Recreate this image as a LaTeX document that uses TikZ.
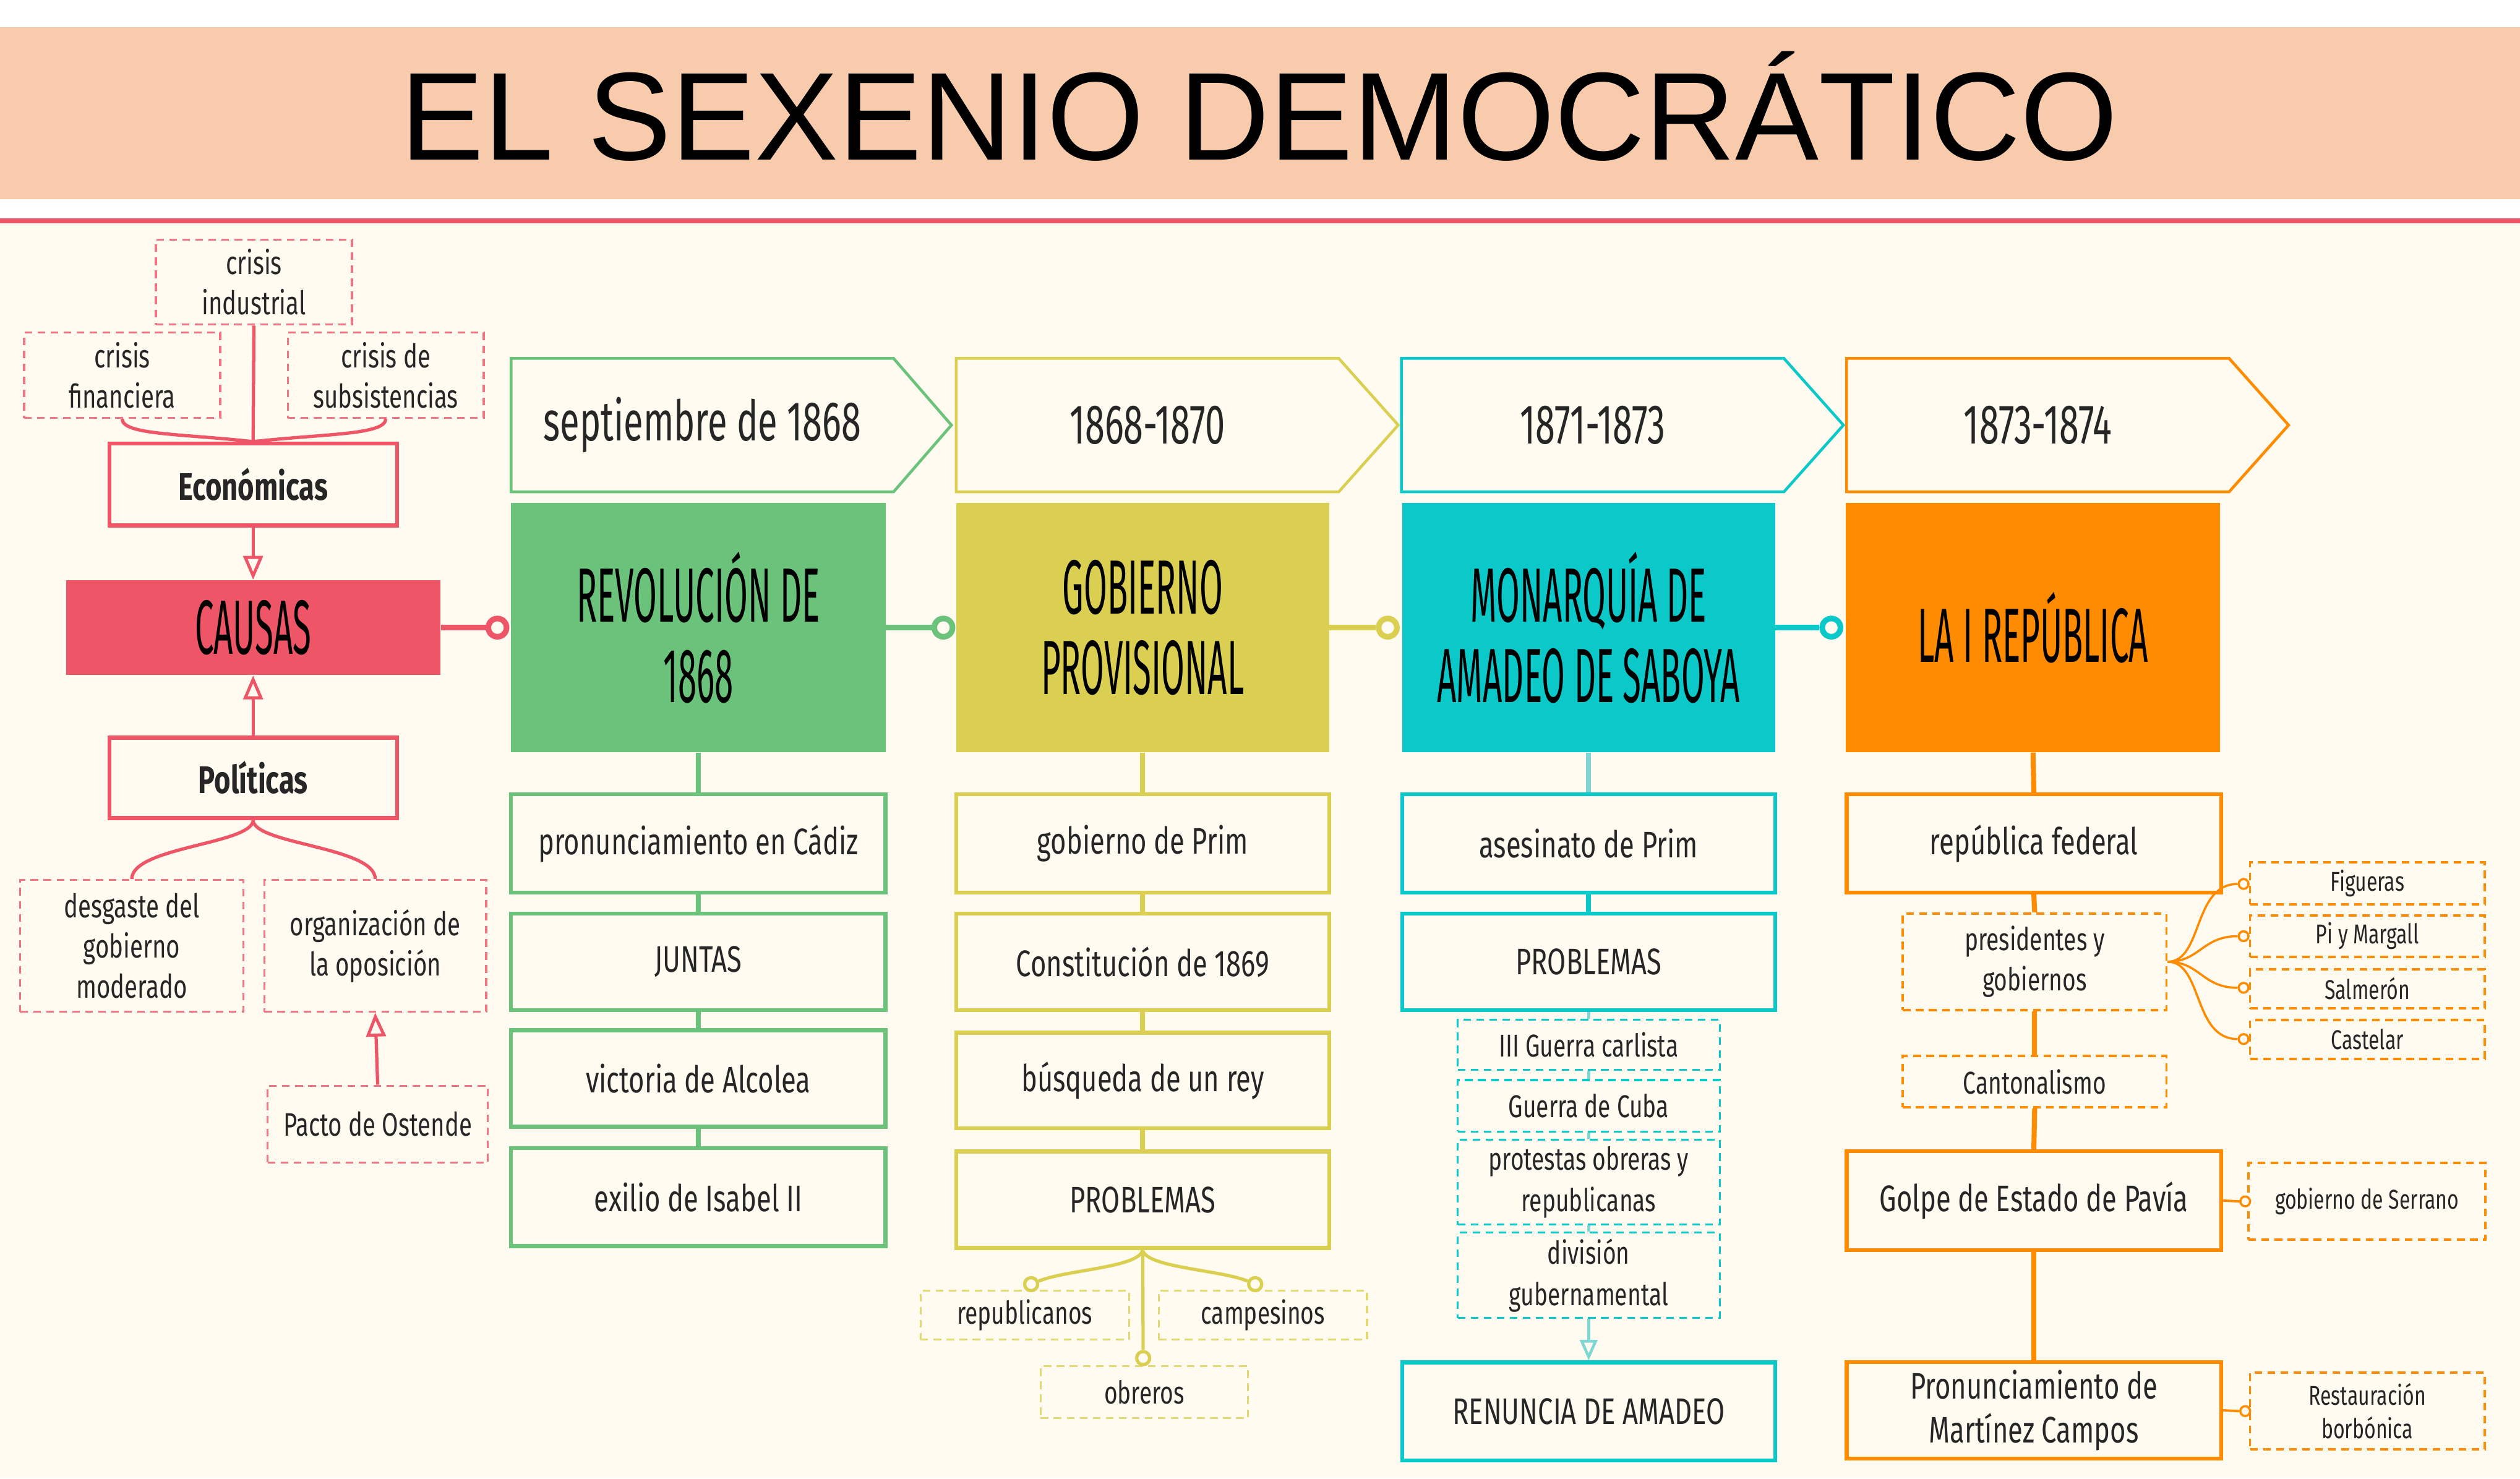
\documentclass[tikz,border=0pt]{standalone}
\usepackage{fontspec}
\setmainfont{Fira Sans}
\newfontfamily\fsub[FakeStretch=0.73]{Fira Sans}
\newfontfamily\fban[FakeStretch=0.64]{Fira Sans}
\newfontfamily\fbig[FakeStretch=0.44]{Fira Sans}
\newfontfamily\ftitle{Liberation Sans}
\usetikzlibrary{arrows.meta}
\newdimen\dpx
\dpx=0.026cm
\definecolor{cream}{HTML}{FFFBF0}
\definecolor{peach}{HTML}{F7CBAC}
\definecolor{redc}{HTML}{EE5566}
\definecolor{redd}{HTML}{F07482}
\definecolor{grn}{HTML}{6BC27A}
\definecolor{ylw}{HTML}{DBCF52}
\definecolor{ylwd}{HTML}{E2D874}
\definecolor{cyn}{HTML}{0BC9C9}
\definecolor{cynl}{HTML}{80D6D2}
\definecolor{orng}{HTML}{FF8C00}
\definecolor{txt}{HTML}{262626}
\tikzset{
  sbox/.style={draw=#1, line width=1.8pt, fill=cream, inner sep=0pt, align=center, text=txt,
    font=\fsub\fontsize{17}{20.3}\selectfont},
  dbox/.style={draw=#1, dash pattern=on 3.5pt off 2.5pt, line width=0.9pt, fill=cream, inner sep=0pt,
    align=center, text=txt, font=\fsub\fontsize{14.5}{18.5}\selectfont},
  lbox/.style={dbox=redd, font=\fsub\fontsize{15}{18.5}\selectfont},
  smbox/.style={dbox=orng, line width=1.1pt, font=\fsub\fontsize{12.5}{15.5}\selectfont},
  rbox/.style={draw=redc, line width=1.8pt, fill=cream, inner sep=0pt, text=txt,
    font=\fsub\bfseries\fontsize{17.7}{20}\selectfont},
  tbox/.style={fill=#1, inner sep=0pt, align=center, text=black,
    font=\fbig\fontsize{35.4}{36.9}\selectfont},
  bantext/.style={inner sep=0pt, text=txt, font=\fban\fontsize{25.7}{28}\selectfont},
  banner/.style={draw=#1, line width=1.3pt, fill=cream, line join=miter},
  conn/.style={draw=#1, line width=2.6pt},
  vline/.style={draw=#1, line width=2.3pt},
  ring/.style={circle, draw=#1, line width=2.6pt, fill=cream, minimum size=8.4pt, inner sep=0pt},
  yring/.style={circle, draw=ylw, line width=1.5pt, fill=cream, minimum size=6pt, inner sep=0pt},
  oring/.style={circle, draw=orng, line width=1pt, fill=cream, minimum size=4.5pt, inner sep=0pt},
  redline/.style={draw=redc, line width=1.5pt},
  opentri/.style={-{Triangle[open, length=11pt, width=9pt, line width=1.4pt]}},
  opentris/.style={-{Triangle[open, length=9.5pt, width=8pt, line width=1.3pt]}},
}
\begin{document}
\begin{tikzpicture}[x=0.026cm,y=-0.026cm]
\useasboundingbox (0,0) rectangle (1568,920);
% background
\fill[white] (0,0) rectangle (1568,920);
\fill[cream] (0,139) rectangle (1568,920);
\fill[peach] (0,17) rectangle (1568,124);
\fill[redc] (0,136) rectangle (1568,139);
\node[anchor=base, inner sep=0pt, text=black, font=\ftitle\fontsize{57.6}{60}\selectfont] (title) at (783.5,99.5) {EL SEXENIO DEMOCRÁTICO};

% ---------------- CAUSAS ----------------
\node[lbox, minimum width=122\dpx, minimum height=53\dpx] (ind) at (158,175.5) {crisis\\industrial};
\node[lbox, minimum width=122\dpx, minimum height=53\dpx] (fin) at (76,233.5) {crisis\\financiera};
\node[lbox, minimum width=122\dpx, minimum height=53\dpx] (sub) at (240,233.5) {crisis de\\subsistencias};
\node[rbox, minimum width=179\dpx, minimum height=51\dpx] (eco) at (157.5,301.5) {Económicas};
\node[tbox=redc, minimum width=233\dpx, minimum height=59\dpx] (causas) at (157.5,390.5) {CAUSAS};
\node[rbox, minimum width=179\dpx, minimum height=50\dpx] (pol) at (157.5,484) {Políticas};
\node[lbox, minimum width=139\dpx, minimum height=82\dpx] (des) at (82,588.5) {desgaste del\\gobierno\\moderado};
\node[lbox, minimum width=138\dpx, minimum height=82\dpx] (org) at (233.5,588.5) {organización de\\la oposición};
\node[lbox, minimum width=137\dpx, minimum height=48\dpx] (pac) at (235,699.5) {Pacto de Ostende};

\draw[redline] (ind.south) -- (eco.north);
\draw[redline] (fin.south) .. controls +(0,10) and +(-45,-5) .. (eco.north);
\draw[redline] (sub.south) .. controls +(0,10) and +(45,-5) .. (eco.north);
\draw[redline, opentri] (eco.south) -- (causas.north);
\draw[redline, opentri] (pol.north) -- (causas.south);
\draw[redline] (pol.south) .. controls +(0,15) and +(0,-20) .. (des.north);
\draw[redline] (pol.south) .. controls +(0,15) and +(0,-20) .. (org.north);
\draw[redline, opentri] (pac.north) -- (org.south);

\node[ring=redc] (rc) at (309.5,390.5) {};
\draw[conn=redc] (causas.east) -- (rc.west);

% ---------------- banners ----------------
\draw[banner=grn] (318,223) -- (556,223) -- (592,264.5) -- (556,306) -- (318,306) -- cycle;
\node[bantext] (b1) at (437,264.5) {septiembre de 1868};
\draw[banner=ylw] (595,223) -- (833,223) -- (870,264.5) -- (833,306) -- (595,306) -- cycle;
\node[bantext] (b2) at (714,264.5) {1868-1870};
\draw[banner=cyn] (872,223) -- (1110,223) -- (1147,264.5) -- (1110,306) -- (872,306) -- cycle;
\node[bantext] (b3) at (991,264.5) {1871-1873};
\draw[banner=orng] (1149,223) -- (1387,223) -- (1424,264.5) -- (1387,306) -- (1149,306) -- cycle;
\node[bantext] (b4) at (1268,264.5) {1873-1874};

% ---------------- green column ----------------
\node[tbox=grn, minimum width=233\dpx, minimum height=155\dpx] (rev) at (434.5,390.5) {REVOLUCIÓN DE\\1868};
\node[sbox=grn, minimum width=233\dpx, minimum height=61\dpx] (g1) at (434.5,524.8) {pronunciamiento en Cádiz};
\node[sbox=grn, minimum width=233\dpx, minimum height=60\dpx] (g2) at (434.5,598.5) {JUNTAS};
\node[sbox=grn, minimum width=233\dpx, minimum height=60\dpx] (g3) at (434.5,671) {victoria de Alcolea};
\node[sbox=grn, minimum width=233\dpx, minimum height=61\dpx] (g4) at (434.5,744.8) {exilio de Isabel II};
\draw[vline=grn] (rev.south) -- (g1.north);
\draw[vline=grn] (g1.south) -- (g2.north);
\draw[vline=grn] (g2.south) -- (g3.north);
\draw[vline=grn] (g3.south) -- (g4.north);
\node[ring=grn] (rg) at (587,390.5) {};
\draw[conn=grn] (rev.east) -- (rg.west);

% ---------------- yellow column ----------------
\node[tbox=ylw, minimum width=232\dpx, minimum height=155\dpx] (gov) at (711,390.5) {GOBIERNO\\PROVISIONAL};
\node[sbox=ylw, minimum width=232\dpx, minimum height=61\dpx] (y1) at (711,524.8) {gobierno de Prim};
\node[sbox=ylw, minimum width=232\dpx, minimum height=60\dpx] (y2) at (711,598.5) {Constitución de 1869};
\node[sbox=ylw, minimum width=232\dpx, minimum height=59.5\dpx] (y3) at (711,672.3) {búsqueda de un rey};
\node[sbox=ylw, minimum width=232\dpx, minimum height=60\dpx] (y4) at (711,746.5) {PROBLEMAS};
\draw[vline=ylw] (gov.south) -- (y1.north);
\draw[vline=ylw] (y1.south) -- (y2.north);
\draw[vline=ylw] (y2.south) -- (y3.north);
\draw[vline=ylw] (y3.south) -- (y4.north);
\node[ring=ylw] (ry) at (863.5,390.5) {};
\draw[conn=ylw] (gov.east) -- (ry.west);
\node[dbox=ylwd, minimum width=129.7\dpx, minimum height=30.6\dpx] (repu) at (637.6,818.3) {republicanos};
\node[dbox=ylwd, minimum width=129.6\dpx, minimum height=30.6\dpx] (camp) at (785.8,818.3) {campesinos};
\node[dbox=ylwd, minimum width=129\dpx, minimum height=32.5\dpx] (obre) at (712,866.2) {obreros};
\node[yring] (yc1) at (641.6,799) {};
\node[yring] (yc2) at (781,799) {};
\node[yring] (yc3) at (711.3,845) {};
\draw[draw=ylw, line width=1.5pt] (y4.south) .. controls +(-2,11) and +(22,-9) .. (yc1);
\draw[draw=ylw, line width=1.5pt] (y4.south) .. controls +(2,11) and +(-22,-9) .. (yc2);
\draw[draw=ylw, line width=1.5pt] (y4.south) -- (yc3);

% ---------------- cyan column ----------------
\node[tbox=cyn, minimum width=232\dpx, minimum height=155\dpx] (mon) at (988.5,390.5) {MONARQUÍA DE\\AMADEO DE SABOYA};
\node[sbox=cyn, minimum width=232\dpx, minimum height=61\dpx] (c1) at (988.5,524.8) {asesinato de Prim};
\node[sbox=cyn, minimum width=232\dpx, minimum height=60\dpx] (c2) at (988.5,598.5) {PROBLEMAS};
\node[dbox=cyn, minimum width=163\dpx, minimum height=31\dpx] (d1) at (988.5,650) {III Guerra carlista};
\node[dbox=cyn, minimum width=163\dpx, minimum height=32\dpx] (d2) at (988.5,688) {Guerra de Cuba};
\node[dbox=cyn, minimum width=163\dpx, minimum height=53\dpx, font=\fsub\fontsize{14.5}{19}\selectfont] (d3) at (988.5,735.5) {protestas obreras y\\republicanas};
\node[dbox=cyn, minimum width=163\dpx, minimum height=53\dpx, font=\fsub\fontsize{14.5}{19}\selectfont] (d4) at (988.5,793.5) {división\\gubernamental};
\node[sbox=cyn, minimum width=232\dpx, minimum height=61\dpx] (ren) at (988.5,878.2) {RENUNCIA DE AMADEO};
\draw[vline=cynl] (mon.south) -- (c1.north);
\draw[vline=cyn] (c1.south) -- (c2.north);
\draw[draw=cynl, line width=1.3pt] (c2.south) -- (d1.north);
\draw[draw=cynl, line width=1.3pt] (d1.south) -- (d2.north);
\draw[draw=cynl, line width=1.3pt] (d2.south) -- (d3.north);
\draw[draw=cynl, line width=1.3pt] (d3.south) -- (d4.north);
\draw[draw=cynl, line width=1.5pt, opentris] (d4.south) -- (ren.north);
\node[ring=cyn] (rcy) at (1139.5,390.5) {};
\draw[conn=cyn] (mon.east) -- (rcy.west);

% ---------------- orange column ----------------
\node[tbox=orng, minimum width=233\dpx, minimum height=155\dpx] (rep) at (1265,390.5) {LA I REPÚBLICA};
\node[sbox=orng, minimum width=233\dpx, minimum height=61\dpx] (o1) at (1265.5,524.8) {república federal};
\node[dbox=orng, line width=1.1pt, minimum width=164\dpx, minimum height=60\dpx] (o2) at (1266,598.4) {presidentes y\\gobiernos};
\node[dbox=orng, line width=1.1pt, minimum width=164\dpx, minimum height=32\dpx] (o3) at (1266,673) {Cantonalismo};
\node[sbox=orng, minimum width=233\dpx, minimum height=61.6\dpx] (o4) at (1265.5,747) {Golpe de Estado de Pavía};
\node[sbox=orng, minimum width=233\dpx, minimum height=60\dpx] (o5) at (1265.5,877.5) {Pronunciamiento de\\Martínez Campos};
\draw[vline=orng] (rep.south) -- (o1.north);
\draw[vline=orng] (o1.south) -- (o2.north);
\draw[vline=orng] (o2.south) -- (o3.north);
\draw[vline=orng] (o3.south) -- (o4.north);
\draw[vline=orng] (o4.south) -- (o5.north);

\node[smbox, minimum width=146\dpx, minimum height=26\dpx] (fig) at (1473,549.6) {Figueras};
\node[smbox, minimum width=146\dpx, minimum height=25.7\dpx] (pim) at (1473,582.5) {Pi y Margall};
\node[smbox, minimum width=146\dpx, minimum height=24.4\dpx] (sal) at (1473,615.2) {Salmerón};
\node[smbox, minimum width=146\dpx, minimum height=24\dpx] (cas) at (1473,646.8) {Castelar};
\node[smbox, minimum width=147.5\dpx, minimum height=48\dpx] (ser) at (1472.8,747.4) {gobierno de Serrano};
\node[smbox, minimum width=146\dpx, minimum height=48\dpx] (res) at (1473,877.9) {Restauración\\borbónica};
\node[oring] (oc1) at (1396,550) {};
\node[oring] (oc2) at (1396,582.5) {};
\node[oring] (oc3) at (1396,614.6) {};
\node[oring] (oc4) at (1396,646.5) {};
\node[oring] (oc5) at (1397,747.5) {};
\node[oring] (oc6) at (1397,878) {};
\draw[draw=orng, line width=1pt] (o2.east) .. controls +(22,0) and +(-28,0) .. (oc1.west);
\draw[draw=orng, line width=1pt] (o2.east) .. controls +(20,0) and +(-22,0) .. (oc2.west);
\draw[draw=orng, line width=1pt] (o2.east) .. controls +(20,0) and +(-22,0) .. (oc3.west);
\draw[draw=orng, line width=1pt] (o2.east) .. controls +(22,0) and +(-28,0) .. (oc4.west);
\draw[draw=orng, line width=1.1pt] (o4.east) -- (oc5.west);
\draw[draw=orng, line width=1.1pt] (o5.east) -- (oc6.west);
\end{tikzpicture}
\end{document}
